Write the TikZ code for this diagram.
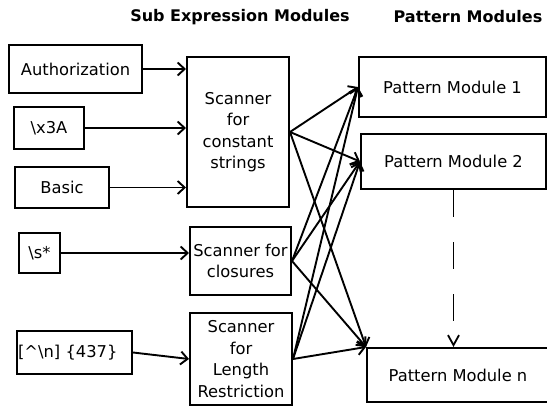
\documentclass[tikz,border=0pt]{standalone}
\usepackage{fontspec}
\setmainfont{DejaVu Sans}
\usepackage{tikz}
\usetikzlibrary{arrows.meta}

\begin{document}
\begin{tikzpicture}[x=1pt,y=1pt,
  every node/.style={font=\fontsize{16.3}{21.5}\selectfont,align=center},
  inp/.style ={rectangle,draw=black,line width=2pt,inner sep=2pt},
  scan/.style={rectangle,draw=black,line width=2pt,inner sep=1pt},
  patt/.style={rectangle,draw=black,line width=2pt},
  head/.style={font=\fontsize{16}{19}\selectfont\bfseries},
  arr/.style ={-{Straight Barb[length=7pt,width=13pt]},line width=1.9pt},
  dsharr/.style={-{Straight Barb[length=10pt,width=11pt]},line width=1.8pt,
                 dash pattern=on 27pt off 25pt},
]
\useasboundingbox (0,0) rectangle (547,-407);

\node[head] at (240,-17)  (hsub) {Sub Expression Modules};
\node[head] at (468,-17)  (hpat) {Pattern Modules};

\node[inp,minimum width=133,minimum height=48] at (75.5,-69)   (auth)   {Authorization};
\node[inp,minimum width=70, minimum height=42] at (49,-128)    (colon)  {\textbackslash x3A};
\node[inp,minimum width=94, minimum height=41] at (62,-187.5)  (basic)  {Basic};
\node[inp,minimum width=41, minimum height=40] at (39.5,-253)  (wspace) {\textbackslash s*};
\node[inp,minimum height=43,text width=113,align=left,inner xsep=1pt]
      at (74.5,-352.5) (notnl) {[\textasciicircum\textbackslash n] \{437\}};

\node[scan,minimum width=102,minimum height=150] at (238,-132)  (sconst) {Scanner\\for\\constant\\strings};
\node[scan,minimum width=101,minimum height=68]  at (240.5,-261) (sclos) {Scanner for\\closures};
\node[scan,minimum width=102,minimum height=92]  at (241,-359)  (slen)   {Scanner\\for\\Length\\Restriction};

\node[patt,minimum width=187,minimum height=60] at (452.5,-87)   (pm1) {Pattern Module 1};
\node[patt,minimum width=185,minimum height=55] at (453.5,-161.5) (pm2) {Pattern Module 2};
\node[patt,minimum width=182,minimum height=54] at (458,-375)    (pmn) {Pattern Module n};

% inputs into the scanners
\draw[arr] (auth.east)   -- (auth.east -| sconst.west);
\draw[arr] (colon.east)  -- (colon.east -| sconst.west);
\draw[arr] (basic.east)  -- (basic.east -| sconst.west);
\draw[arr] (wspace.east) -- (wspace.east -| sclos.west);
\draw[arr] (notnl.east)  -- (slen.west);

% scanners into the pattern modules
\draw[arr] (sconst.east) -- (pm1.west);
\draw[arr] (sconst.east) -- (pm2.west);
\draw[arr] (sconst.east) -- (pmn.north west);
\draw[arr] (sclos.east)  -- (pm1.west);
\draw[arr] (sclos.east)  -- (pm2.west);
\draw[arr] (sclos.east)  -- (pmn.north west);
\draw[arr] (slen.east)   -- (pm1.west);
\draw[arr] (slen.east)   -- (pm2.west);
\draw[arr] (slen.east)   -- (pmn.north west);

\draw[dsharr] (pm2.south) -- (pm2.south |- pmn.north);
\end{tikzpicture}
\end{document}
